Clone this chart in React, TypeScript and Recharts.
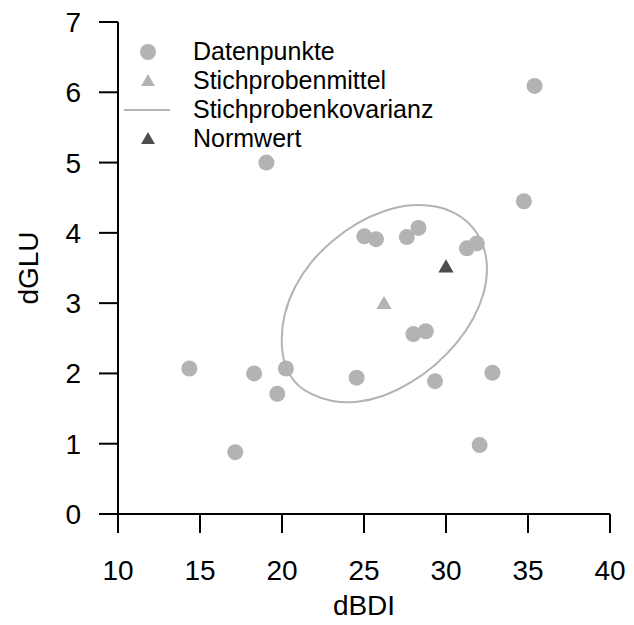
import React from 'react';
import { ComposedChart, Scatter, Line, XAxis, YAxis, Legend } from 'recharts';

// Datenpunkte
const dBDI = [14.35, 17.15, 18.3, 19.05, 19.71, 20.24, 24.55, 25.02, 25.73, 27.61, 28.32, 28.01, 28.77, 29.33, 31.27, 31.88, 32.05, 32.83, 34.75, 35.4];
const dGLU = [2.07, 0.88, 2.0, 5.0, 1.71, 2.07, 1.94, 3.95, 3.91, 3.94, 4.07, 2.56, 2.6, 1.89, 3.78, 3.85, 0.98, 2.01, 4.45, 6.09];

// Stichprobenmittel and Normwert
const meanBDI = [26.22];
const meanGLU = [2.98];
const normBDI = [30];
const normGLU = [3.5];

// Kovarianz-Ellipse, traced around the picture (drawn as a closed curve)
const ellipseBDI = [32.57, 32.36, 31.72, 30.71, 29.4, 27.87, 26.22, 24.57, 23.05, 21.73, 20.73, 20.09, 19.93, 20.09, 20.73, 21.73, 23.05, 24.57, 26.22, 27.87, 29.4, 30.68, 31.72, 32.36];
const ellipseGLU = [3.5, 3.14, 2.78, 2.43, 2.12, 1.86, 1.67, 1.58, 1.59, 1.7, 1.86, 2.14, 2.47, 2.84, 3.23, 3.59, 3.89, 4.15, 4.32, 4.41, 4.39, 4.28, 4.08, 3.8];

const xTicks = [10, 15, 20, 25, 30, 35, 40];
const yTicks = [0, 1, 2, 3, 4, 5, 6, 7];
const legendLabels = ['Datenpunkte', 'Stichprobenmittel', 'Stichprobenkovarianz', 'Normwert'];

const LIGHT = '#b3b3b3';
const DARK = '#4d4d4d';
const FONT = '"Liberation Sans", Arial, Helvetica, sans-serif';
const AXIS_FONT = 28;

const points = dBDI.map((x, i) => ({ x, y: dGLU[i] }));
const meanPoint = meanBDI.map((x, i) => ({ x, y: meanGLU[i] }));
const normPoint = normBDI.map((x, i) => ({ x, y: normGLU[i] }));
const ellipse = ellipseBDI.map((x, i) => ({ x, y: ellipseGLU[i] }));

// R pch 17 style: point sits at the triangle's centre
const triangle = (cx: number, cy: number, r: number, fill: string) => {
  const h = r * 0.866;
  return (
    <polygon
      points={`${cx},${cy - r} ${cx + h},${cy + r / 2} ${cx - h},${cy + r / 2}`}
      fill={fill}
    />
  );
};

const Dot = (p: any) => <circle cx={p.cx} cy={p.cy} r={8} fill={LIGHT} />;
const MeanMark = (p: any) => triangle(p.cx, p.cy, 8.8, LIGHT);
const NormMark = (p: any) => triangle(p.cx, p.cy, 8.8, DARK);

const legendMarker = (i: number) => {
  if (i === 0) return <circle cx={28} cy={14} r={8} fill={LIGHT} />;
  if (i === 1) return triangle(28, 15, 8, LIGHT);
  if (i === 2) return <line x1={4} x2={50} y1={14} y2={14} stroke={LIGHT} strokeWidth={2} />;
  return triangle(28, 15, 8, DARK);
};

const LegendBox = () => (
  <div style={{ fontFamily: FONT, fontSize: 25, color: '#000' }}>
    {legendLabels.map((label, i) => (
      <div key={label} style={{ display: 'flex', alignItems: 'center', height: 29 }}>
        <svg width={56} height={28} style={{ display: 'block' }}>
          {legendMarker(i)}
        </svg>
        <span style={{ marginLeft: 17, lineHeight: '29px', whiteSpace: 'nowrap' }}>{label}</span>
      </div>
    ))}
  </div>
);

const XTitle = (p: any) => {
  const vb = p.viewBox || { x: 118, y: 514, width: 492, height: 111 };
  return (
    <text x={vb.x + vb.width / 2} y={vb.y + vb.height - 10} textAnchor="middle" fontSize={AXIS_FONT} fontFamily={FONT} fill="#000">
      dBDI
    </text>
  );
};

const YTitle = (p: any) => {
  const vb = p.viewBox || { x: 0, y: 22, width: 118, height: 492 };
  const x = vb.x + 38;
  const y = vb.y + vb.height / 2;
  return (
    <text x={x} y={y} transform={`rotate(-90, ${x}, ${y})`} textAnchor="middle" fontSize={AXIS_FONT} fontFamily={FONT} fill="#000">
      dGLU
    </text>
  );
};

export default function App() {
  const tickStyle = { fontSize: AXIS_FONT, fill: '#000', fontFamily: FONT };
  return (
    <div style={{ position: 'absolute', left: 0, top: 0, background: '#fff' }}>
      <ComposedChart
        width={634}
        height={625}
        margin={{ top: 22, right: 24, bottom: 0, left: 0 }}
        style={{ fontFamily: FONT }}
      >
        <XAxis
          type="number"
          dataKey="x"
          domain={[10, 40]}
          ticks={xTicks}
          interval={0}
          height={111}
          tickSize={19}
          tickMargin={27}
          axisLine={{ stroke: '#000', strokeWidth: 2 }}
          tickLine={{ stroke: '#000', strokeWidth: 2 }}
          tick={tickStyle}
          label={XTitle}
        />
        <YAxis
          type="number"
          dataKey="y"
          domain={[0, 7]}
          ticks={yTicks}
          interval={0}
          width={118}
          tickSize={19}
          tickMargin={18}
          axisLine={{ stroke: '#000', strokeWidth: 2 }}
          tickLine={{ stroke: '#000', strokeWidth: 2 }}
          tick={tickStyle}
          label={YTitle}
        />
        <Legend
          layout="vertical"
          align="center"
          verticalAlign="middle"
          wrapperStyle={{ left: 120, top: 37, width: 'auto', height: 'auto' }}
          content={() => <LegendBox />}
        />
        <Line
          data={ellipse}
          dataKey="y"
          type="basisClosed"
          stroke={LIGHT}
          strokeWidth={2}
          dot={false}
          activeDot={false}
          isAnimationActive={false}
          legendType="none"
        />
        <Scatter data={points} shape={Dot} isAnimationActive={false} />
        <Scatter data={meanPoint} shape={MeanMark} isAnimationActive={false} />
        <Scatter data={normPoint} shape={NormMark} isAnimationActive={false} />
      </ComposedChart>
    </div>
  );
}
